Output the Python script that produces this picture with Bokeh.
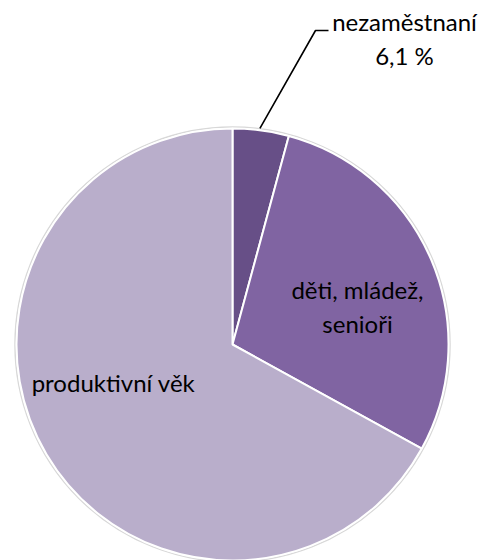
import math
from bokeh.plotting import figure
from bokeh.models import Range1d, ColumnDataSource
from bokeh.core.properties import value
from bokeh.embed import file_html
from bokeh.resources import INLINE

categories = ["nezaměstnaní", "děti, mládež, senioři", "produktivní věk"]
shares = [4.2, 28.8, 67.0]
colors = ["#674F87", "#8064A2", "#B9AECB"]
label_texts = ["nezaměstnaní\n6,1 %", "děti, mládež,\nsenioři", "produktivní věk"]

W, H = 484, 560
cx, cy, r = 232, H - 344, 216

p = figure(width=W, height=H, x_range=Range1d(0, W), y_range=Range1d(0, H),
           output_backend="svg", toolbar_location=None, min_border=0)
p.axis.visible = False
p.grid.visible = False
p.outline_line_color = None
p.background_fill_color = "white"

total = sum(shares)
starts, ends, mids = [], [], []
acc = 0.0
for s in shares:
    a0 = math.pi / 2 - 2 * math.pi * acc / total
    acc += s
    a1 = math.pi / 2 - 2 * math.pi * acc / total
    starts.append(a0)
    ends.append(a1)
    mids.append((a0 + a1) / 2)

src = ColumnDataSource(dict(start=starts, end=ends, color=colors, cat=categories))

p.circle(x=[cx], y=[cy], radius=r + 1.5, fill_color=None, line_color="#d8d8d8", line_width=1.5)
p.wedge(x=cx, y=cy, radius=r, start_angle="start", end_angle="end", direction="clock",
        fill_color="color", line_color="white", line_width=2, source=src)

font = value("Lato")
# leader line for the small slice
mx = cx + r * math.cos(mids[0])
my = cy + r * math.sin(mids[0])
p.line(x=[mx - 1, 315, 328], y=[my + 2, H - 30, H - 30], line_color="black", line_width=1.6)

p.text(x=[404], y=[H - 38], text=[label_texts[0]], text_font=font, text_font_size="24px",
       text_align="center", text_baseline="middle", text_color="black", text_line_height=1.15)
p.text(x=[357], y=[H - 306], text=[label_texts[1]], text_font=font, text_font_size="24px",
       text_align="center", text_baseline="middle", text_color="black", text_line_height=1.15)
p.text(x=[113], y=[H - 382], text=[label_texts[2]], text_font=font, text_font_size="24px",
       text_align="center", text_baseline="middle", text_color="black")

open("out.html", "w").write(file_html(p, INLINE))
